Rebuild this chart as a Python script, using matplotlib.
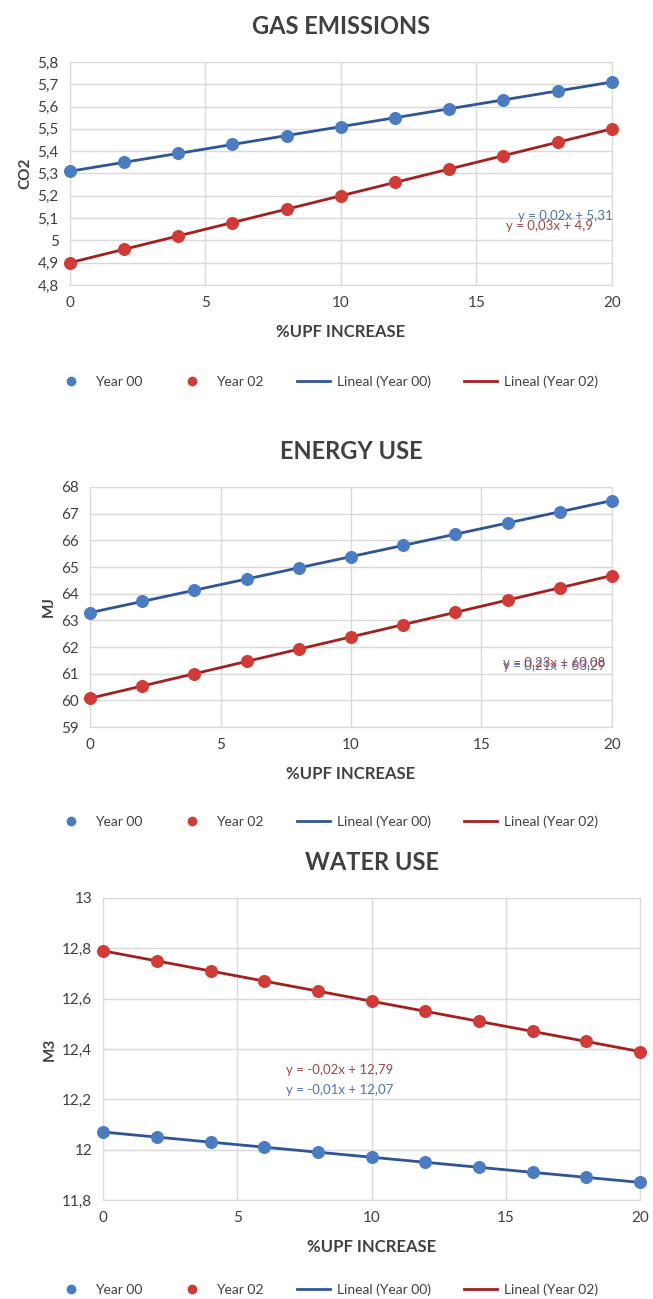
import matplotlib.pyplot as plt
from matplotlib.lines import Line2D
from matplotlib.ticker import FuncFormatter

plt.rcParams['font.family'] = ['Lato', 'DejaVu Sans']

# %UPF increase (x axis, shared by all charts)
upf = [0, 2, 4, 6, 8, 10, 12, 14, 16, 18, 20]

# gas emissions (CO2)
co2_year00 = [5.31, 5.35, 5.39, 5.43, 5.47, 5.51, 5.55, 5.59, 5.63, 5.67, 5.71]
co2_year02 = [4.90, 4.96, 5.02, 5.08, 5.14, 5.20, 5.26, 5.32, 5.38, 5.44, 5.50]

# energy use (MJ)
mj_year00 = [63.29, 63.71, 64.13, 64.55, 64.97, 65.39, 65.81, 66.23, 66.65, 67.07, 67.49]
mj_year02 = [60.08, 60.54, 61.00, 61.46, 61.92, 62.38, 62.84, 63.30, 63.76, 64.22, 64.68]

# water use (M3)
m3_year00 = [12.07, 12.05, 12.03, 12.01, 11.99, 11.97, 11.95, 11.93, 11.91, 11.89, 11.87]
m3_year02 = [12.79, 12.75, 12.71, 12.67, 12.63, 12.59, 12.55, 12.51, 12.47, 12.43, 12.39]

eq_co2 = ['y = 0,02x + 5,31', 'y = 0,03x + 4,9']
eq_mj = ['y = 0,21x + 63,29', 'y = 0,23x + 60,08']
eq_m3 = ['y = -0,01x + 12,07', 'y = -0,02x + 12,79']

BLUE_PT = '#4a7cc4'
BLUE_LN = '#2f5597'
RED_PT = '#d13a35'
RED_LN = '#a3201f'
GRID = '#d9d9d9'
TXT = '#404040'

fig = plt.figure(figsize=(6.53, 12.99), dpi=100)


def comma(v, pos):
    return f'{v:g}'.replace('.', ',')


def draw(rect, title, ylabel, y00, y02, ylim, ystep, eqs, eq_pos, leg_y):
    ax = fig.add_axes(rect)
    ax.plot(upf, y00, color=BLUE_LN, lw=2, zorder=2)
    ax.plot(upf, y02, color=RED_LN, lw=2, zorder=2)
    ax.scatter(upf, y00, s=70, color=BLUE_PT, zorder=3, clip_on=False)
    ax.scatter(upf, y02, s=70, color=RED_PT, zorder=3, clip_on=False)
    ax.set_xlim(0, 20)
    ax.set_ylim(*ylim)
    ax.set_xticks([0, 5, 10, 15, 20])
    n = round((ylim[1] - ylim[0]) / ystep)
    ax.set_yticks([round(ylim[0] + i * ystep, 3) for i in range(n + 1)])
    ax.yaxis.set_major_formatter(FuncFormatter(comma))
    ax.grid(True, color=GRID, lw=1)
    ax.set_axisbelow(True)
    for s in ax.spines.values():
        s.set_color(GRID)
    ax.tick_params(length=0, labelsize=11, colors=TXT, pad=8)
    ax.set_title(title, fontsize=17, fontweight='bold', color=TXT, pad=20)
    ax.set_ylabel(ylabel, fontsize=11, fontweight='bold', color=TXT)
    ax.set_xlabel('%UPF INCREASE', fontsize=12, fontweight='bold', color=TXT, labelpad=10)
    ax.text(eq_pos[0][0], eq_pos[0][1], eqs[0], color='#4f74ad', fontsize=9.5, ha='center', va='center')
    ax.text(eq_pos[1][0], eq_pos[1][1], eqs[1], color='#a34545', fontsize=9.5, ha='center', va='center')
    handles = [
        Line2D([], [], ls='none', marker='o', ms=6, color=BLUE_PT, label='Year 00'),
        Line2D([], [], ls='none', marker='o', ms=6, color=RED_PT, label='Year 02'),
        Line2D([], [], color=BLUE_LN, lw=2, label='Lineal (Year 00)'),
        Line2D([], [], color=RED_LN, lw=2, label='Lineal (Year 02)'),
    ]
    leg = fig.legend(handles=handles, loc='center', bbox_to_anchor=(0.5, leg_y), ncol=4,
                     frameon=False, fontsize=10, handlelength=2.4, columnspacing=2.4,
                     handletextpad=0.5)
    for t in leg.get_texts():
        t.set_color(TXT)
    return ax


draw([0.107, 0.7806, 0.830, 0.1717], 'GAS EMISSIONS', 'CO2', co2_year00, co2_year02,
     (4.8, 5.8), 0.1, eq_co2, [(18.3, 5.11), (17.7, 5.065)], 1 - 382 / 1299)
draw([0.138, 0.4403, 0.799, 0.1848], 'ENERGY USE', 'MJ', mj_year00, mj_year02,
     (59, 68), 1, eq_mj, [(17.8, 61.3), (17.8, 61.4)], 1 - 822 / 1299)
draw([0.158, 0.0762, 0.822, 0.2325], 'WATER USE', 'M3', m3_year00, m3_year02,
     (11.8, 13.0), 0.2, eq_m3, [(8.8, 12.237), (8.8, 12.317)], 1 - 1290 / 1299)

plt.savefig('out.png', dpi=100)
